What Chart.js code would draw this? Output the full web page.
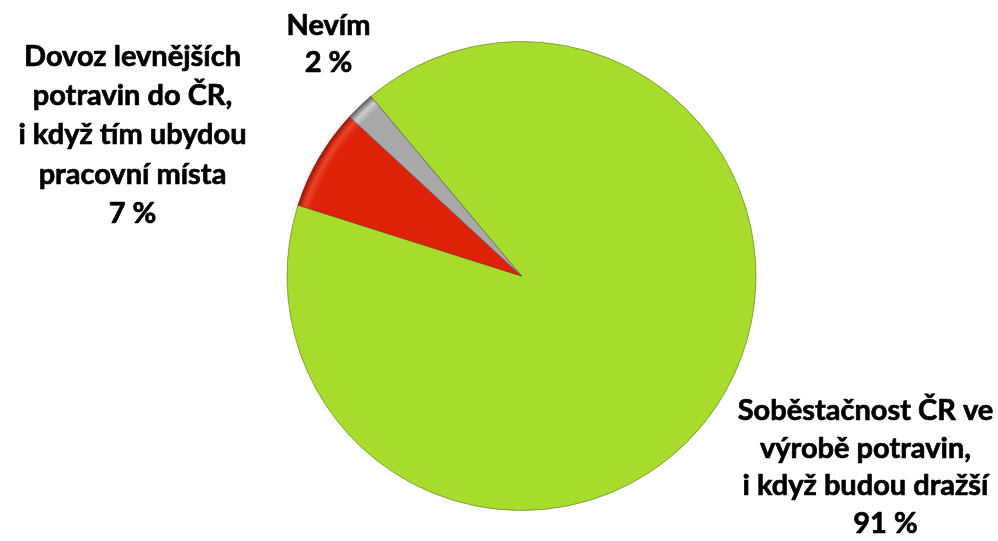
<!DOCTYPE html>
<html>
<head>
<meta charset="utf-8">
<script src="https://cdn.jsdelivr.net/npm/chart.js@4.4.1/dist/chart.umd.min.js"></script>
<style>
html,body{margin:0;padding:0;background:#fff;}
#wrap{width:998px;height:541px;position:relative;}
</style>
</head>
<body>
<div id="wrap"><canvas id="c" width="998" height="541"></canvas></div>
<script>
const categories = [
  ["Soběstačnost ČR ve", "výrobě potravin,", "i když budou dražší"],
  ["Dovoz levnějších", "potravin do ČR,", "i když tím ubydou", "pracovní místa"],
  ["Nevím"]
];
const values = [91, 7, 2];
const valueLabels = ["91 %", "7 %", "2 %"];
const baseColors = ["#a8dc2c", "#de220a", "#a9a9a9"];
const edgeColors = ["#6f9218", "#a8180a", "#6e6e6e"];
const rimLight = ["#b6e63e", "#ec4426", "#cdcdcd"];

function sliceFill(ctx, i) {
  const chart = ctx.chart;
  const meta = chart.getDatasetMeta(0);
  const el = meta && meta.data[0];
  if (!el || !el.outerRadius) return baseColors[i];
  const g = chart.ctx.createRadialGradient(el.x, el.y, 0, el.x, el.y, el.outerRadius);
  g.addColorStop(0, baseColors[i]);
  g.addColorStop(0.94, baseColors[i]);
  g.addColorStop(0.97, rimLight[i]);
  g.addColorStop(0.995, edgeColors[i]);
  g.addColorStop(1, edgeColors[i]);
  return g;
}

const labelPlugin = {
  id: 'labels',
  afterDraw(chart) {
    const el = chart.getDatasetMeta(0).data[0];
    const cx = el.x, cy = el.y;
    const c = chart.ctx;
    c.save();
    c.fillStyle = '#000';
    c.strokeStyle = '#000';
    c.lineWidth = 0.7;
    c.lineJoin = 'round';
    c.font = 'bold 29px Lato';
    c.textAlign = 'center';
    c.textBaseline = 'alphabetic';
    const blocks = [
      {i: 0, x: cx + 344, y: cy + 144, step: 37.7, lastX: cx + 364},
      {i: 1, x: cx - 389, y: cy - 210, step: 39.2, lastX: cx - 389},
      {i: 2, x: cx - 193, y: cy - 241, step: 37, lastX: cx - 193}
    ];
    blocks.forEach(b => {
      const lines = categories[b.i].concat([valueLabels[b.i]]);
      lines.forEach((t, k) => {
        const x = k === lines.length - 1 ? b.lastX : b.x;
        c.fillText(t, x, b.y + k * b.step);
        c.strokeText(t, x, b.y + k * b.step);
      });
    });
    c.restore();
  }
};

new Chart(document.getElementById('c'), {
  type: 'pie',
  data: {
    labels: categories.map(l => l.join(' ')),
    datasets: [{
      data: values,
      backgroundColor: ctx => sliceFill(ctx, ctx.dataIndex),
      borderColor: ["rgba(90,110,20,0.6)", "rgba(150,20,10,0.6)", "rgba(90,90,90,0.7)"],
      borderWidth: 1
    }]
  },
  options: {
    responsive: false,
    animation: false,
    rotation: -40,
    layout: {padding: {left: 286, right: 241, top: 41, bottom: 30}},
    plugins: {legend: {display: false}, tooltip: {enabled: false}}
  },
  plugins: [labelPlugin]
});
</script>
</body>
</html>
